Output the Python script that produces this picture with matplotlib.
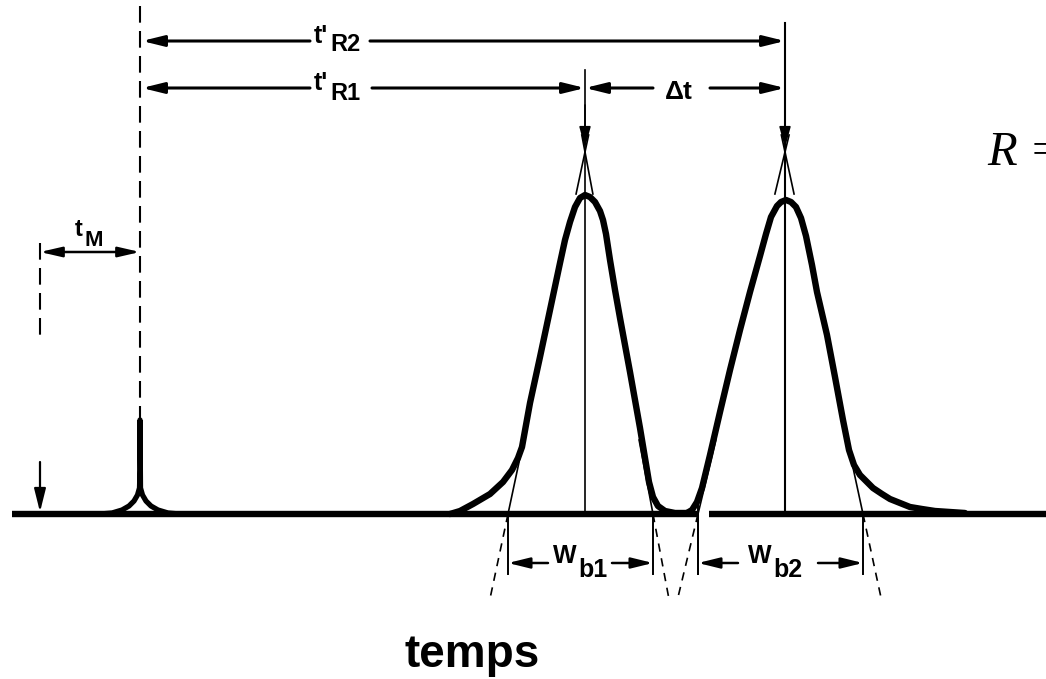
import numpy as np
import matplotlib
matplotlib.use("Agg")
import matplotlib.pyplot as plt

# ---------------- data (diagram units: x = time axis, y = signal rows, baseline row 514) -------------
baseline_y = 514
baseline_x0 = [12, 709]
baseline_x1 = [697, 1046]

# dead-time spike (t_M)
spike_x = [100, 112, 122, 129, 134, 137.5, 139.5, 140, 140, 140.5, 142.5, 146, 151, 158, 168, 180]
spike_y = [514, 513, 510, 506, 501, 495, 488, 470, 420, 488, 495, 501, 506, 510, 513, 514]

# peak 1 outline
peak1_x = [450, 460, 473, 490, 503, 512, 518, 522, 530, 540, 550, 560, 565, 570, 575, 580, 585,
           590, 595, 600, 603, 606, 610, 615, 620, 625, 630, 635, 640, 645, 649, 653, 658, 665, 675, 687]
peak1_y = [514, 511, 504, 494, 482, 470, 458, 447, 403, 357, 310, 263, 240, 222, 207, 198, 195,
           197, 202, 211, 220, 234, 260, 290, 318, 345, 372, 400, 428, 458, 482, 497, 506, 511, 513, 513]

# peak 2 outline
peak2_x = [687, 692, 697, 702, 710, 720, 730, 740, 750, 760, 766, 771, 777, 781, 786, 791, 796,
           801, 806, 812, 817, 827, 835, 843, 849, 854, 860, 867, 873, 882, 890, 900, 910, 922, 935,
           950, 965]
peak2_y = [513, 510, 502, 488, 455, 412, 370, 330, 292, 256, 234, 217, 206, 202, 200, 202, 207,
           218, 236, 265, 292, 335, 377, 420, 450, 465, 475, 482, 488, 494, 499, 503, 507, 509, 511,
           512, 513]

# characteristic times
t_inj = 40
t_M = 140
t_R1 = 585
t_R2 = 785

# tangent intercepts with the baseline (peak widths)
wb1 = [508, 653]
wb2 = [698, 863]
apex_y = 152          # crossing point of tangents
tangent_top = 135
tangent_bottom = 598

# rows of the dimension arrows
row_R2 = 41
row_R1 = 88
row_M = 252
row_W = 563

# ------------------------------------------------------------------------------------------
fig = plt.figure(figsize=(10.46, 6.79), dpi=100)
ax = fig.add_axes([0, 0, 1, 1])
ax.set_xlim(0, 1046)
ax.set_ylim(679, 0)
ax.axis("off")

K = "black"
LABEL_FONT = ["Liberation Sans", "DejaVu Sans"]


def arrow(x0, y0, x1, y1, lw=2.0, hl=1.3, hw=0.32):
    ax.annotate("", xy=(x1, y1), xytext=(x0, y0),
                arrowprops=dict(arrowstyle=f"-|>,head_length={hl},head_width={hw}",
                                lw=lw, color=K, shrinkA=0, shrinkB=0, mutation_scale=10))


def label(x, y, main, sub, dx_sub, dy_sub, size=15, subsize=15):
    ax.text(x, y, main, ha="right", va="baseline", fontsize=size, fontweight="bold",
            family=LABEL_FONT, color=K)
    ax.text(x + dx_sub, y + dy_sub, sub, ha="left", va="baseline", fontsize=subsize,
            fontweight="bold", family=LABEL_FONT, color=K)


# baseline
for a, b in zip(baseline_x0, baseline_x1):
    ax.plot([a, b], [baseline_y, baseline_y], color=K, lw=4.6, solid_capstyle="butt")

# chromatogram peaks
ax.plot(spike_x, spike_y, color=K, lw=3.8, solid_joinstyle="round")
ax.plot(peak1_x, peak1_y, color=K, lw=4.6, solid_joinstyle="round", solid_capstyle="round")
ax.plot(peak2_x, peak2_y, color=K, lw=4.6, solid_joinstyle="round", solid_capstyle="round")

# vertical reference lines
ax.plot([t_M, t_M], [6, 420], color=K, lw=1.5, dashes=(8, 4))
ax.plot([t_inj, t_inj], [243, 342], color=K, lw=1.5, dashes=(8, 4))
ax.plot([t_R1, t_R1], [70, baseline_y], color=K, lw=1.2)
ax.plot([t_R2, t_R2], [23, baseline_y], color=K, lw=1.5)

# tangents to the peaks: solid above the peak top and near the foot, dashed below the baseline
for c, (l, r) in zip([t_R1, t_R2], [wb1, wb2]):
    for xb in (l, r):
        slope = (c - xb) / (apex_y - baseline_y)      # dx / dy
        x_at = lambda yy: xb + slope * (yy - baseline_y)
        ax.plot([x_at(tangent_top), x_at(194)], [tangent_top, 194], color=K, lw=1.2)
        ax.plot([x_at(440), xb], [440, baseline_y], color=K, lw=1.2)
        ax.plot([xb, x_at(tangent_bottom)], [baseline_y, tangent_bottom], color=K, lw=1.2,
                dashes=(5, 4))

# peak-top arrows pointing down
arrow(t_R1, 105, t_R1, apex_y - 4, lw=1.2, hl=1.3, hw=0.35)
arrow(t_R2, 105, t_R2, apex_y - 4, lw=1.2, hl=1.3, hw=0.35)
# injection arrow
arrow(t_inj, 462, t_inj, baseline_y - 2, lw=1.6, hl=1.4, hw=0.35)

# t'R2
arrow(310, row_R2, t_M + 2, row_R2, lw=2.2)
arrow(370, row_R2, t_R2, row_R2, lw=2.2)
# t'R1
arrow(310, row_R1, t_M + 2, row_R1, lw=2.2)
arrow(372, row_R1, t_R1, row_R1, lw=2.2)
# delta t
arrow(653, row_R1, t_R1, row_R1, lw=2.2)
arrow(710, row_R1, t_R2, row_R1, lw=2.2)
# t_M
ax.annotate("", xy=(t_M, row_M), xytext=(t_inj, row_M),
            arrowprops=dict(arrowstyle="<|-|>,head_length=1.3,head_width=0.3", lw=1.8, color=K,
                            shrinkA=0, shrinkB=0, mutation_scale=10))
# W_b1 / W_b2
for (l, r), (gl, gr) in zip([wb1, wb2], [(548, 612), (738, 818)]):
    ax.plot([l, l], [baseline_y, 574], color=K, lw=1.4)
    ax.plot([r, r], [baseline_y, 574], color=K, lw=1.4)
    arrow(gl, row_W, l, row_W, lw=1.8)
    arrow(gr, row_W, r, row_W, lw=1.8)
ax.plot([wb2[0], wb2[0]], [505, 574], color=K, lw=1.4)

# labels
label(328, 43, "t'", "R2", 2, 8, size=18, subsize=17)
label(328, 90, "t'", "R1", 2, 10, size=18, subsize=17)
ax.text(679, 99, "Δt", ha="center", va="baseline", fontsize=19, fontweight="bold",
        family=LABEL_FONT, color=K)
label(83, 236, "t", "M", 2, 10, size=17, subsize=16)
label(577, 563, "W", "b1", 1, 14, size=18, subsize=18)
label(772, 563, "W", "b2", 1, 14, size=18, subsize=18)

ax.text(987, 165, "R =", ha="left", va="baseline", fontsize=35, style="italic",
        family=["Liberation Serif", "DejaVu Serif"], color=K)
ax.text(472, 667, "temps", ha="center", va="baseline", fontsize=33, fontweight="bold",
        family=["Liberation Sans", "DejaVu Sans"], color=K)

fig.savefig("out.png", dpi=100, facecolor="white")
